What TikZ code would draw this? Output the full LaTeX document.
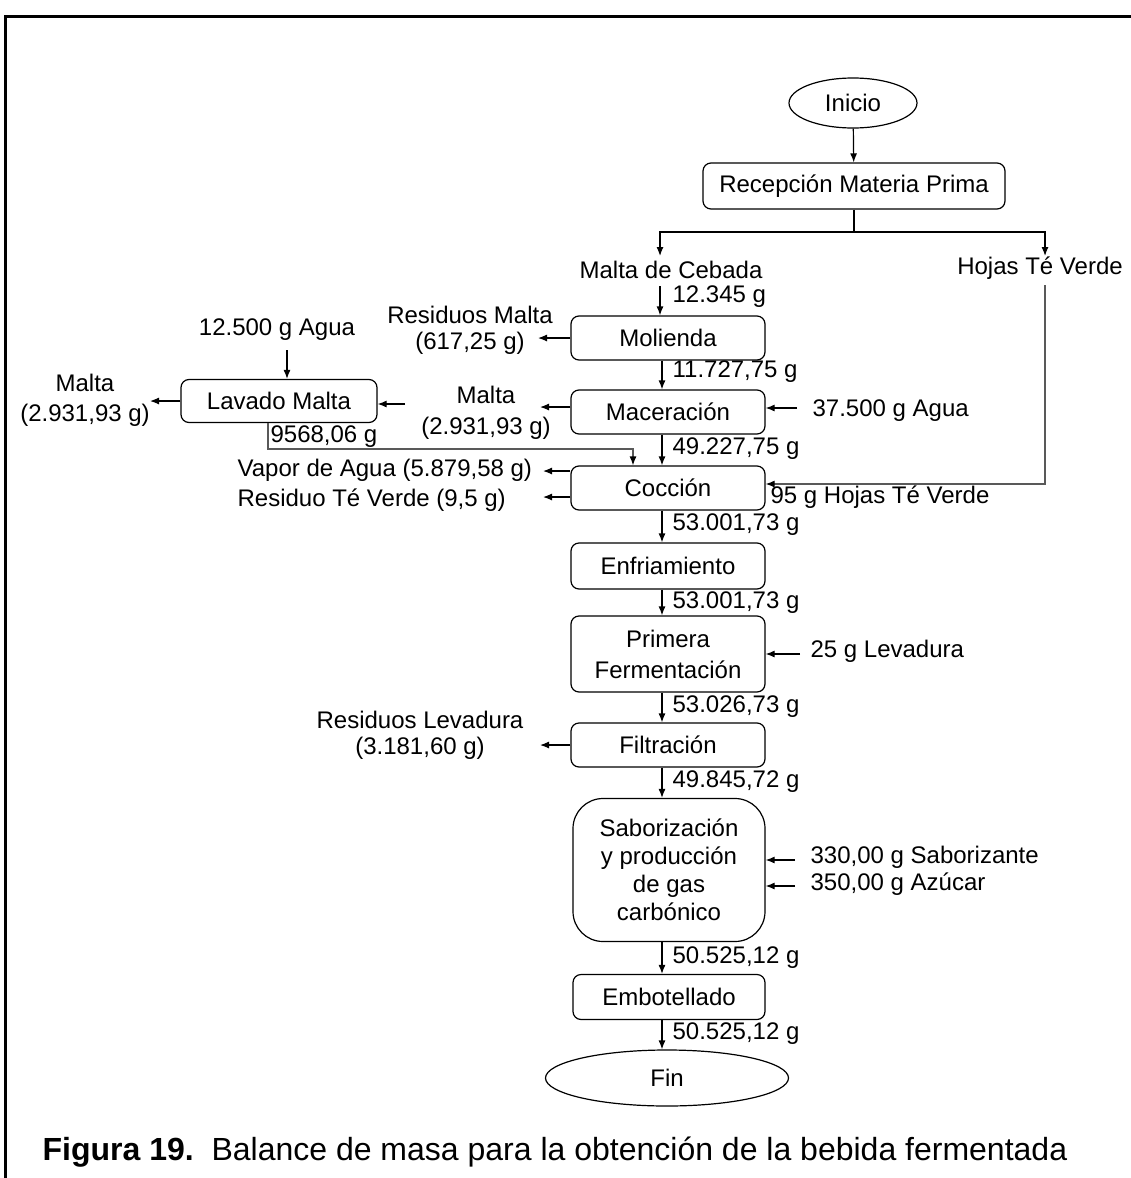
\documentclass[tikz,border=0pt]{standalone}
\usepackage{fontspec}
\setmainfont{Liberation Sans}
\newfontfamily\capfont{Liberation Sans}
\usetikzlibrary{shapes.geometric,arrows.meta}

\begin{document}
\fontsize{24}{28}\selectfont
\begin{tikzpicture}[x=1pt, y=-1pt, line width=1.2pt, >={Latex[length=9pt,width=7pt]},
	box/.style={draw, rounded corners=8pt, fill=white, minimum width=194pt, minimum height=44pt, align=center, inner sep=2pt},
	oval/.style={draw, ellipse, fill=white, inner sep=0pt},
	lbl/.style={align=center, inner sep=0pt},
	qty/.style={anchor=west, inner sep=0pt},
	back/.style={draw=gray!70!black, -{Latex[length=9pt,width=7pt,color=black]}}]
				\useasboundingbox (0,0) rectangle (1131,1178);
				%frame
				\draw[line width=3pt] (1131,16) -- (5,16) -- (5,1178);
				
				%labels
				\node[lbl] (cebada) at (671,270){Malta de Cebada};
				\node[lbl] (hojas) at (1040,268){Hojas Té Verde};
				\node[qty] (q1) at (672,297){12.345 g};
				\node[qty] (q2) at (672,372){11.727,75 g};
				\node[qty] (q3) at (672,449){49.227,75 g};
				\node[qty] (q4) at (672,525){53.001,73 g};
				\node[qty] (q5) at (672,603){53.001,73 g};
				\node[qty] (q6) at (672,707){53.026,73 g};
				\node[qty] (q7) at (672,782){49.845,72 g};
				\node[qty] (q8) at (672,958){50.525,12 g};
				\node[qty] (q9) at (672,1034){50.525,12 g};
				\node[qty] (q10) at (270,437){9568,06 g};
				
				\node[lbl] (resmal) at (470,330){Residuos Malta\\[-2pt](617,25 g)};
				\node[lbl] (malta) at (486,413){Malta\\[3pt](2.931,93 g)};
				\node[lbl] (malta2) at (85,400){Malta\\[2pt](2.931,93 g)};
				\node[lbl] (agua2) at (277,330){12.500 g Agua};
				\node[qty] (agua) at (812,411){37.500 g Agua};
				\node[qty] (vapor) at (237,470){Vapor de Agua (5.879,58 g)};
				\node[qty] (restv) at (237,500){Residuo Té Verde (9,5 g)};
				\node[qty] (hojas2) at (770,497){95 g Hojas Té Verde};
				\node[qty] (lev) at (810,651){25 g Levadura};
				\node[lbl] (reslev) at (420,735){Residuos Levadura\\[-2pt](3.181,60 g)};
				\node[qty] (sabz) at (810,857){330,00 g Saborizante};
				\node[qty] (azu) at (810,884){350,00 g Azúcar};
				
				%process boxes
				\node[oval, minimum width=128pt, minimum height=50pt] (ini) at (853,103){Inicio};
				\node[box, minimum width=302pt, minimum height=46pt] (rec) at (854,186){Recepción Materia Prima};
				\node[box] (mol) at (668,338){Molienda};
				\node[box] (mac) at (668,412){Maceración};
				\node[box, minimum width=196pt, minimum height=43pt] (lav) at (279,401){Lavado Malta};
				\node[box] (coc) at (668,488){Cocción};
				\node[box, minimum height=46pt] (enf) at (668,566){Enfriamiento};
				\node[box, minimum height=76pt] (fer) at (668,654){Primera\\[3pt]Fermentación};
				\node[box] (fil) at (668,745){Filtración};
				\node[box, minimum width=192pt, minimum height=143pt, rounded corners=30pt] (sab) at (669,870){Saborización\\y producción\\de gas\\carbónico};
				\node[box, minimum width=192pt, minimum height=45pt] (emb) at (669,997){Embotellado};
				\node[oval, minimum width=243pt, minimum height=56pt] (fin) at (667,1078){Fin};
				
				%free ends
				\coordinate (axis) at (662,0);
				\coordinate (split) at (854,232);
				\coordinate (cebIn) at (660,256);
				\coordinate (hojIn) at (1045,256);
				\coordinate (cebOut) at (660,286);
				\coordinate (hojOut) at (1045,285);
				\coordinate (lavTurn) at (633,449);
				
				%main line
				\draw[->] (ini) -- (rec);
				\draw (rec) -- (split);
				\draw[->] (split) -| (cebIn);
				\draw[->] (split) -| (hojIn);
				\draw[->] (cebOut) -- (cebOut |- mol.north);
				\foreach \a/\b in {mol/mac, mac/coc, coc/enf, enf/fer, fer/fil, fil/sab, sab/emb, emb/fin}{
					\draw[->] (\a.south -| axis) -- (\b.north -| axis);
				}
				
				%inputs and outputs
				\draw[->] (mol.west) -- (538,338);
				\draw[->] ([yshift=5pt]mac.west) -- (540,407);
				\draw[->] (797,408) -- ([yshift=4pt]mac.east);
				\draw[->] (405,404) -- ([yshift=-3pt]lav.east);
				\draw[->] (lav.west) -- (150,401);
				\draw[->] (287,350) -- ([xshift=8pt]lav.north);
				\draw[back] ([xshift=-11pt]lav.south) |- (lavTurn) -- (lavTurn |- coc.north);
				\draw[->] ([yshift=17pt]coc.west) -- (543,471);
				\draw[->] ([yshift=-9pt]coc.west) -- (543,497);
				\draw[back] (hojOut) |- ([yshift=4pt]coc.east);
				\draw[->] (800,654) -- (fer.east);
				\draw[->] (fil.west) -- (540,745);
				\draw[->] (795,860) -- ([yshift=10pt]sab.east);
				\draw[->] (795,886) -- ([yshift=-16pt]sab.east);
				
				%caption
				\node[anchor=base west, inner sep=0pt] (cap) at (42,1160){\capfont\fontsize{32}{38}\selectfont\textbf{Figura 19.}\ \ Balance de masa para la obtención de la bebida fermentada};
			\end{tikzpicture}
\end{document}
